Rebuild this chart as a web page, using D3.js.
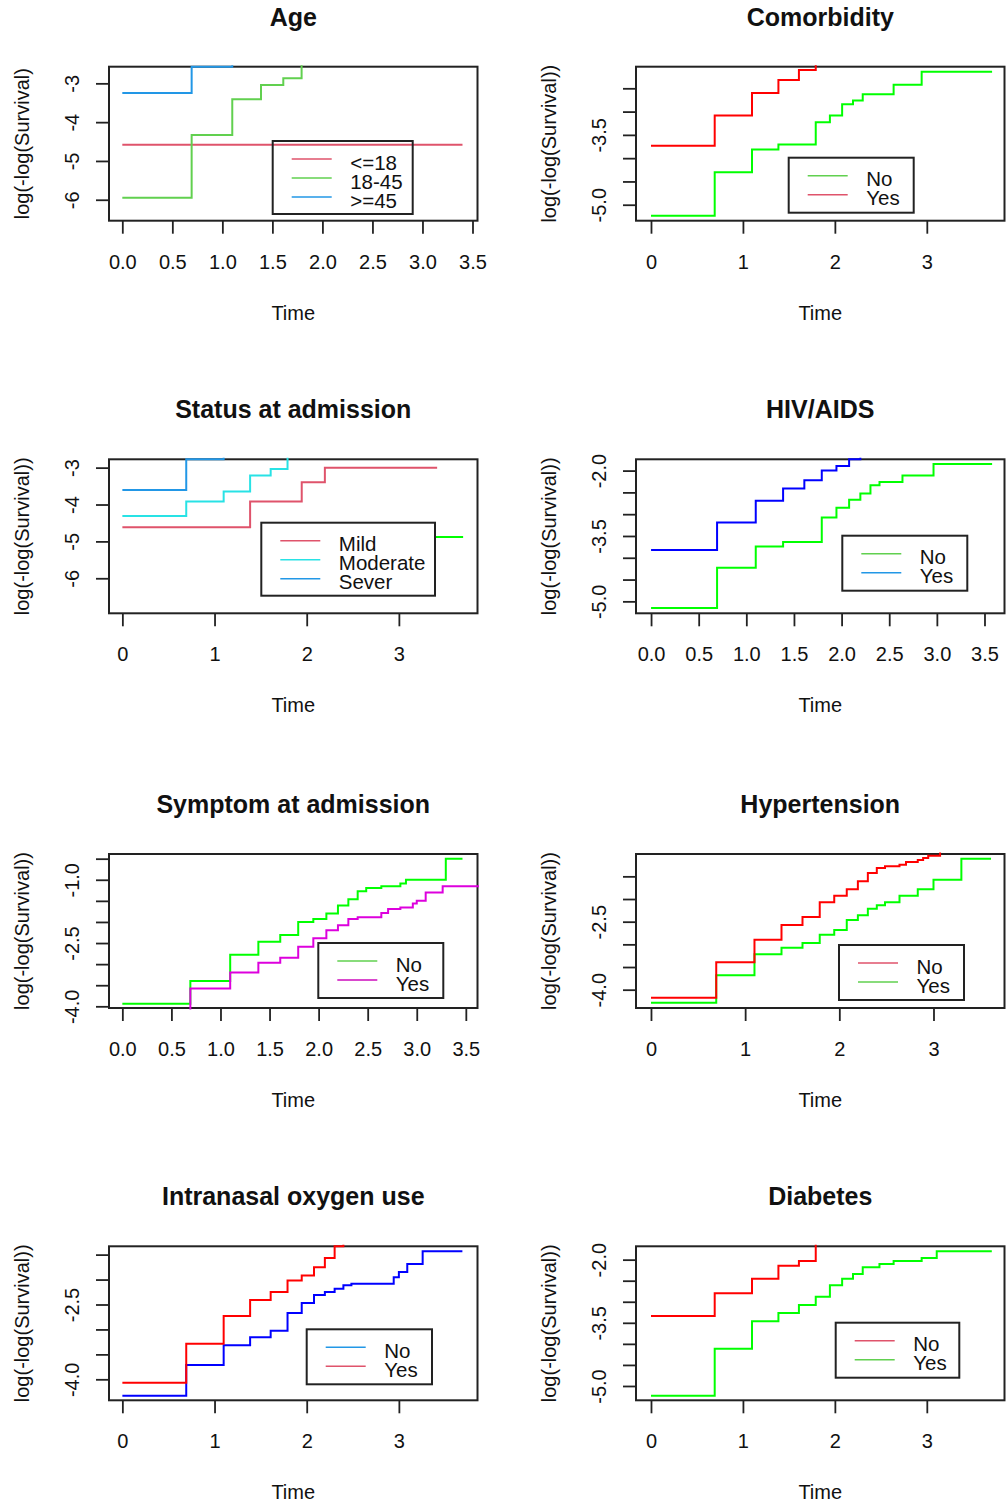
<!DOCTYPE html>
<html>
<head>
<meta charset="utf-8">
<script src="https://cdn.jsdelivr.net/npm/d3@7"></script>
<style>
  body { margin: 0; background: #fff; }
  svg text { font-family: "Liberation Sans", Arial, sans-serif; fill: #111; }
</style>
</head>
<body>
<div id="chart"></div>
<script>
// ---- Data: step curves as [time, value] (value holds until next time) ----
const age18   = [[0, -4.585], [3.40, -4.585]];
const age1845 = [[0, -5.95], [0.693, -4.33], [1.099, -3.41], [1.386, -3.04], [1.609, -2.87], [1.792, -2.40], [2.08, -2.40]];
const age45   = [[0, -3.25], [0.693, -2.571], [1.099, -2.30], [1.39, -2.30]];

const comorbNo  = [[0, -5.236], [0.693, -4.30], [1.099, -3.814], [1.386, -3.707], [1.792, -3.229], [1.946, -3.086], [2.079, -2.843], [2.197, -2.764], [2.303, -2.629], [2.639, -2.421], [2.944, -2.143], [3.71, -2.143]];
const comorbYes = [[0, -3.736], [0.693, -3.086], [1.099, -2.60], [1.386, -2.32], [1.609, -2.107], [1.792, -1.90], [2.0, -1.90]];

const statusMild     = [[0, -4.617], [1.386, -3.917], [1.946, -3.393], [2.197, -3.0], [3.415, -3.0]];
const statusModerate = [[0, -4.309], [0.693, -3.917], [1.099, -3.645], [1.386, -3.21], [1.609, -3.036], [1.792, -2.60], [2.0, -2.60]];
const statusSever    = [[0, -3.605], [0.693, -2.774], [1.099, -2.50], [1.30, -2.50]];
const statusOther    = [[3.40, -4.879], [3.697, -4.879]];

const hivNo  = [[0, -5.152], [0.693, -4.23], [1.099, -3.744], [1.386, -3.637], [1.792, -3.074], [1.946, -2.853], [2.079, -2.67], [2.197, -2.526], [2.303, -2.335], [2.398, -2.259], [2.639, -2.114], [2.965, -1.848], [3.58, -1.848]];
const hivYes = [[0, -3.82], [0.693, -3.189], [1.099, -2.69], [1.386, -2.411], [1.609, -2.221], [1.792, -2.0], [1.946, -1.893], [2.079, -1.741], [2.197, -1.50], [2.30, -1.50]];

const symptomNo  = [[0, -3.937], [0.693, -3.397], [1.099, -2.778], [1.386, -2.468], [1.609, -2.31], [1.792, -2.0], [1.946, -1.929], [2.079, -1.802], [2.197, -1.611], [2.303, -1.46], [2.398, -1.27], [2.485, -1.198], [2.639, -1.151], [2.833, -1.087], [2.890, -1.0], [3.296, -0.5], [3.466, -0.5]];
const symptomYes = [[0, -4.20], [0.693, -3.579], [1.099, -3.198], [1.386, -2.968], [1.609, -2.849], [1.792, -2.587], [1.946, -2.389], [2.079, -2.198], [2.197, -2.079], [2.303, -1.929], [2.398, -1.889], [2.639, -1.786], [2.708, -1.69], [2.833, -1.659], [2.96, -1.563], [3.0, -1.5], [3.091, -1.302], [3.264, -1.151], [3.70, -1.151]];

const hyperNo  = [[0, -4.176], [0.693, -3.397], [1.099, -2.897], [1.386, -2.574], [1.609, -2.397], [1.792, -2.074], [1.946, -1.926], [2.079, -1.787], [2.197, -1.61], [2.303, -1.426], [2.398, -1.316], [2.485, -1.279], [2.639, -1.243], [2.708, -1.184], [2.833, -1.14], [2.890, -1.096], [2.944, -1.044], [3.07, -0.90], [3.20, -0.90]];
const hyperYes = [[0, -4.287], [0.693, -3.684], [1.099, -3.221], [1.386, -3.074], [1.609, -2.971], [1.792, -2.787], [1.946, -2.684], [2.079, -2.463], [2.197, -2.36], [2.303, -2.213], [2.398, -2.14], [2.485, -2.074], [2.639, -1.926], [2.833, -1.787], [3.0, -1.574], [3.296, -1.11], [3.611, -1.11]];

const oxygenNo  = [[0, -4.328], [0.693, -3.713], [1.099, -3.318], [1.386, -3.158], [1.609, -3.024], [1.792, -2.670], [1.946, -2.469], [2.079, -2.309], [2.197, -2.249], [2.303, -2.182], [2.398, -2.115], [2.485, -2.082], [2.944, -1.955], [3.0, -1.848], [3.091, -1.687], [3.258, -1.433], [3.689, -1.433]];
const oxygenYes = [[0, -4.067], [0.693, -3.285], [1.099, -2.730], [1.386, -2.409], [1.609, -2.249], [1.792, -2.021], [1.946, -1.921], [2.079, -1.754], [2.197, -1.567], [2.303, -1.333], [2.398, -1.10], [2.50, -1.10]];

const diabNo  = [[0, -3.338], [0.693, -2.80], [1.099, -2.451], [1.386, -2.143], [1.609, -2.032], [1.792, -1.50], [2.0, -1.50]];
const diabYes = [[0, -5.23], [0.693, -4.114], [1.099, -3.465], [1.386, -3.267], [1.609, -3.077], [1.792, -2.879], [1.946, -2.61], [2.079, -2.451], [2.197, -2.34], [2.303, -2.182], [2.485, -2.103], [2.639, -2.032], [2.944, -1.96], [3.108, -1.802], [3.707, -1.802]];

// ---- Categories and tick labels ----
const ageGroups = ["<=18", "18-45", ">=45"];
const statusGroups = ["Mild", "Moderate", "Sever"];
const noYes = ["No", "Yes"];

const xTicksHalf = [0, 0.5, 1, 1.5, 2, 2.5, 3, 3.5];
const xLabelsHalf = ["0.0", "0.5", "1.0", "1.5", "2.0", "2.5", "3.0", "3.5"];
const xTicksInt = [0, 1, 2, 3];
const xLabelsInt = ["0", "1", "2", "3"];

const yTicksInt = [-6, -5, -4, -3];
const yLabelsInt = ["-6", "-5", "-4", "-3"];
const yTicksComorb = [-5, -4.5, -4, -3.5, -3, -2.5];
const yLabelsComorb = ["-5.0", "", "", "-3.5", "", ""];
const yTicksFive = [-5, -4.5, -4, -3.5, -3, -2.5, -2];
const yLabelsFive = ["-5.0", "", "", "-3.5", "", "", "-2.0"];
const yTicksSymptom = [-4, -3.5, -3, -2.5, -2, -1.5, -1, -0.5];
const yLabelsSymptom = ["-4.0", "", "", "-2.5", "", "", "-1.0", ""];
const yTicksFour = [-4, -3.5, -3, -2.5, -2, -1.5];
const yLabelsFour = ["-4.0", "", "", "-2.5", "", ""];

// ---- Panels ----
const P2 = "#DF536B", P3 = "#61D04F", P4 = "#2297E6", P5 = "#28E2E5", P6 = "#CD0BBC";
const colLeft = [109, 636];
const rowTop = [66.7, 459.3, 854, 1246.3];
const boxW = 368.5, boxH = 154;

const panels = [
  { title: "Age", ylab: "log(-log(Survival)", col: 0, row: 0,
    xdom: [-0.133, 3.55], ydom: [-6.54, -2.571],
    xt: xTicksHalf, xl: xLabelsHalf, yt: yTicksInt, yl: yLabelsInt,
    series: [[age18, P2], [age1845, P3], [age45, P4]],
    legend: { labels: ageGroups, colors: [P2, P3, P4], x: 163.7, y: 74.3, w: 140 } },
  { title: "Comorbidity", ylab: "log(-log(Survival))", col: 1, row: 0,
    xdom: [-0.163, 3.845], ydom: [-5.343, -2.036],
    xt: xTicksInt, xl: xLabelsInt, yt: yTicksComorb, yl: yLabelsComorb,
    series: [[comorbNo, "#00FF00"], [comorbYes, "#FF0000"]],
    legend: { labels: noYes, colors: [P3, P2], x: 152.7, y: 91, w: 125 } },
  { title: "Status at admission", ylab: "log(-log(Survival))", col: 0, row: 1,
    xdom: [-0.145, 3.853], ydom: [-6.95, -2.774],
    xt: xTicksInt, xl: xLabelsInt, yt: yTicksInt, yl: yLabelsInt,
    series: [[statusOther, "#00FF00"], [statusMild, P2], [statusModerate, P5], [statusSever, P4]],
    legend: { labels: statusGroups, colors: [P2, P5, P4], x: 152.3, y: 63.4, w: 173.7 } },
  { title: "HIV/AIDS", ylab: "log(-log(Survival))", col: 1, row: 1,
    xdom: [-0.158, 3.71], ydom: [-5.274, -1.741],
    xt: xTicksHalf, xl: xLabelsHalf, yt: yTicksFive, yl: yLabelsFive,
    series: [[hivNo, "#00FF00"], [hivYes, "#0000FF"]],
    legend: { labels: noYes, colors: [P3, P4], x: 206.3, y: 76.4, w: 125 } },
  { title: "Symptom at admission", ylab: "log(-log(Survival))", col: 0, row: 2,
    xdom: [-0.136, 3.619], ydom: [-4.04, -0.389],
    xt: xTicksHalf, xl: xLabelsHalf, yt: yTicksSymptom, yl: yLabelsSymptom,
    series: [[symptomNo, "#00FF00"], [symptomYes, "#DD00DD"]],
    legend: { labels: noYes, colors: [P3, P6], x: 209.3, y: 89, w: 125 } },
  { title: "Hypertension", ylab: "log(-log(Survival))", col: 1, row: 2,
    xdom: [-0.159, 3.754], ydom: [-4.404, -1.007],
    xt: xTicksInt, xl: xLabelsInt, yt: yTicksFour, yl: yLabelsFour,
    series: [[hyperYes, "#00FF00"], [hyperNo, "#FF0000"]],
    legend: { labels: noYes, colors: [P2, P3], x: 203, y: 91, w: 125 } },
  { title: "Intranasal oxygen use", ylab: "log(-log(Survival))", col: 0, row: 3,
    xdom: [-0.145, 3.853], ydom: [-4.421, -1.333],
    xt: xTicksInt, xl: xLabelsInt, yt: yTicksFour, yl: yLabelsFour,
    series: [[oxygenNo, "#0000FF"], [oxygenYes, "#FF0000"]],
    legend: { labels: noYes, colors: [P4, P2], x: 197.7, y: 83, w: 125.3 } },
  { title: "Diabetes", ylab: "log(-log(Survival))", col: 1, row: 3,
    xdom: [-0.163, 3.845], ydom: [-5.34, -1.683],
    xt: xTicksInt, xl: xLabelsInt, yt: yTicksFive, yl: yLabelsFive,
    series: [[diabYes, "#00FF00"], [diabNo, "#FF0000"]],
    legend: { labels: noYes, colors: [P2, P3], x: 199.7, y: 76.4, w: 123.6 } }
];

const svg = d3.select("#chart")
  .append("svg")
  .attr("width", 1006)
  .attr("height", 1508);

panels.forEach(function (p, idx) {
  const L = colLeft[p.col], T = rowTop[p.row];
  const x = d3.scaleLinear().domain(p.xdom).range([L, L + boxW]);
  const y = d3.scaleLinear().domain(p.ydom).range([T + boxH, T]);
  const g = svg.append("g");

  // clip a little wider than the box so lines on the edge stay whole
  g.append("clipPath").attr("id", "clip" + idx)
    .append("rect")
    .attr("x", L - 1.5).attr("y", T - 1.5)
    .attr("width", boxW + 3).attr("height", boxH + 3);

  // title
  g.append("text")
    .attr("x", L + boxW / 2).attr("y", T - 50)
    .attr("text-anchor", "middle").attr("dominant-baseline", "central")
    .style("font-size", "25px").style("font-weight", "bold")
    .text(p.title);

  // x axis
  const xa = g.append("g")
    .attr("transform", "translate(0," + (T + boxH) + ")")
    .call(d3.axisBottom(x).tickValues(p.xt)
      .tickFormat(function (d, i) { return p.xl[i]; })
      .tickSize(13).tickPadding(20.7));
  xa.select(".domain").remove();
  xa.selectAll(".tick line").attr("stroke", "#222").attr("stroke-width", 1.8);
  xa.selectAll(".tick text").style("font-size", "20px").attr("fill", "#111");
  xa.attr("font-family", null);

  // y axis
  const ya = g.append("g")
    .attr("transform", "translate(" + L + ",0)")
    .call(d3.axisLeft(y).tickValues(p.yt)
      .tickFormat(function (d, i) { return p.yl[i]; })
      .tickSize(13));
  ya.select(".domain").remove();
  ya.selectAll(".tick line").attr("stroke", "#222").attr("stroke-width", 1.8);
  ya.selectAll(".tick text")
    .attr("x", null).attr("dy", null)
    .attr("transform", "translate(-37,0) rotate(-90)")
    .attr("text-anchor", "middle").attr("dominant-baseline", "central")
    .style("font-size", "20px").attr("fill", "#111");
  ya.attr("font-family", null);

  // axis titles
  g.append("text")
    .attr("x", L + boxW / 2).attr("y", T + boxH + 92)
    .attr("text-anchor", "middle").attr("dominant-baseline", "central")
    .style("font-size", "20px")
    .text("Time");
  g.append("text")
    .attr("transform", "translate(" + (L - 87) + "," + (T + boxH / 2) + ") rotate(-90)")
    .attr("text-anchor", "middle").attr("dominant-baseline", "central")
    .style("font-size", "20px")
    .text(p.ylab);

  // box
  g.append("rect")
    .attr("x", L).attr("y", T).attr("width", boxW).attr("height", boxH)
    .attr("fill", "none").attr("stroke", "#222").attr("stroke-width", 2);

  // step curves
  const line = d3.line()
    .x(function (d) { return x(d[0]); })
    .y(function (d) { return y(d[1]); })
    .curve(d3.curveStepAfter);

  g.append("g").attr("clip-path", "url(#clip" + idx + ")")
    .selectAll("path")
    .data(p.series)
    .enter()
    .append("path")
    .attr("d", function (s) { return line(s[0]); })
    .attr("fill", "none")
    .attr("stroke", function (s) { return s[1]; })
    .attr("stroke-width", 2);

  // legend
  const lg = p.legend;
  const rows = [18, 37, 56];
  const lgH = lg.labels.length === 3 ? 73 : 55;
  const leg = g.append("g").attr("transform", "translate(" + (L + lg.x) + "," + (T + lg.y) + ")");
  leg.append("rect")
    .attr("width", lg.w).attr("height", lgH)
    .attr("fill", "none").attr("stroke", "#222").attr("stroke-width", 2);
  lg.labels.forEach(function (lab, i) {
    leg.append("line")
      .attr("x1", 19).attr("x2", 59)
      .attr("y1", rows[i]).attr("y2", rows[i])
      .attr("stroke", lg.colors[i]).attr("stroke-width", 1.5);
    leg.append("text")
      .attr("x", 77.5).attr("y", rows[i] + 3)
      .attr("dominant-baseline", "central")
      .style("font-size", "20.5px")
      .text(lab);
  });
});
</script>
</body>
</html>
